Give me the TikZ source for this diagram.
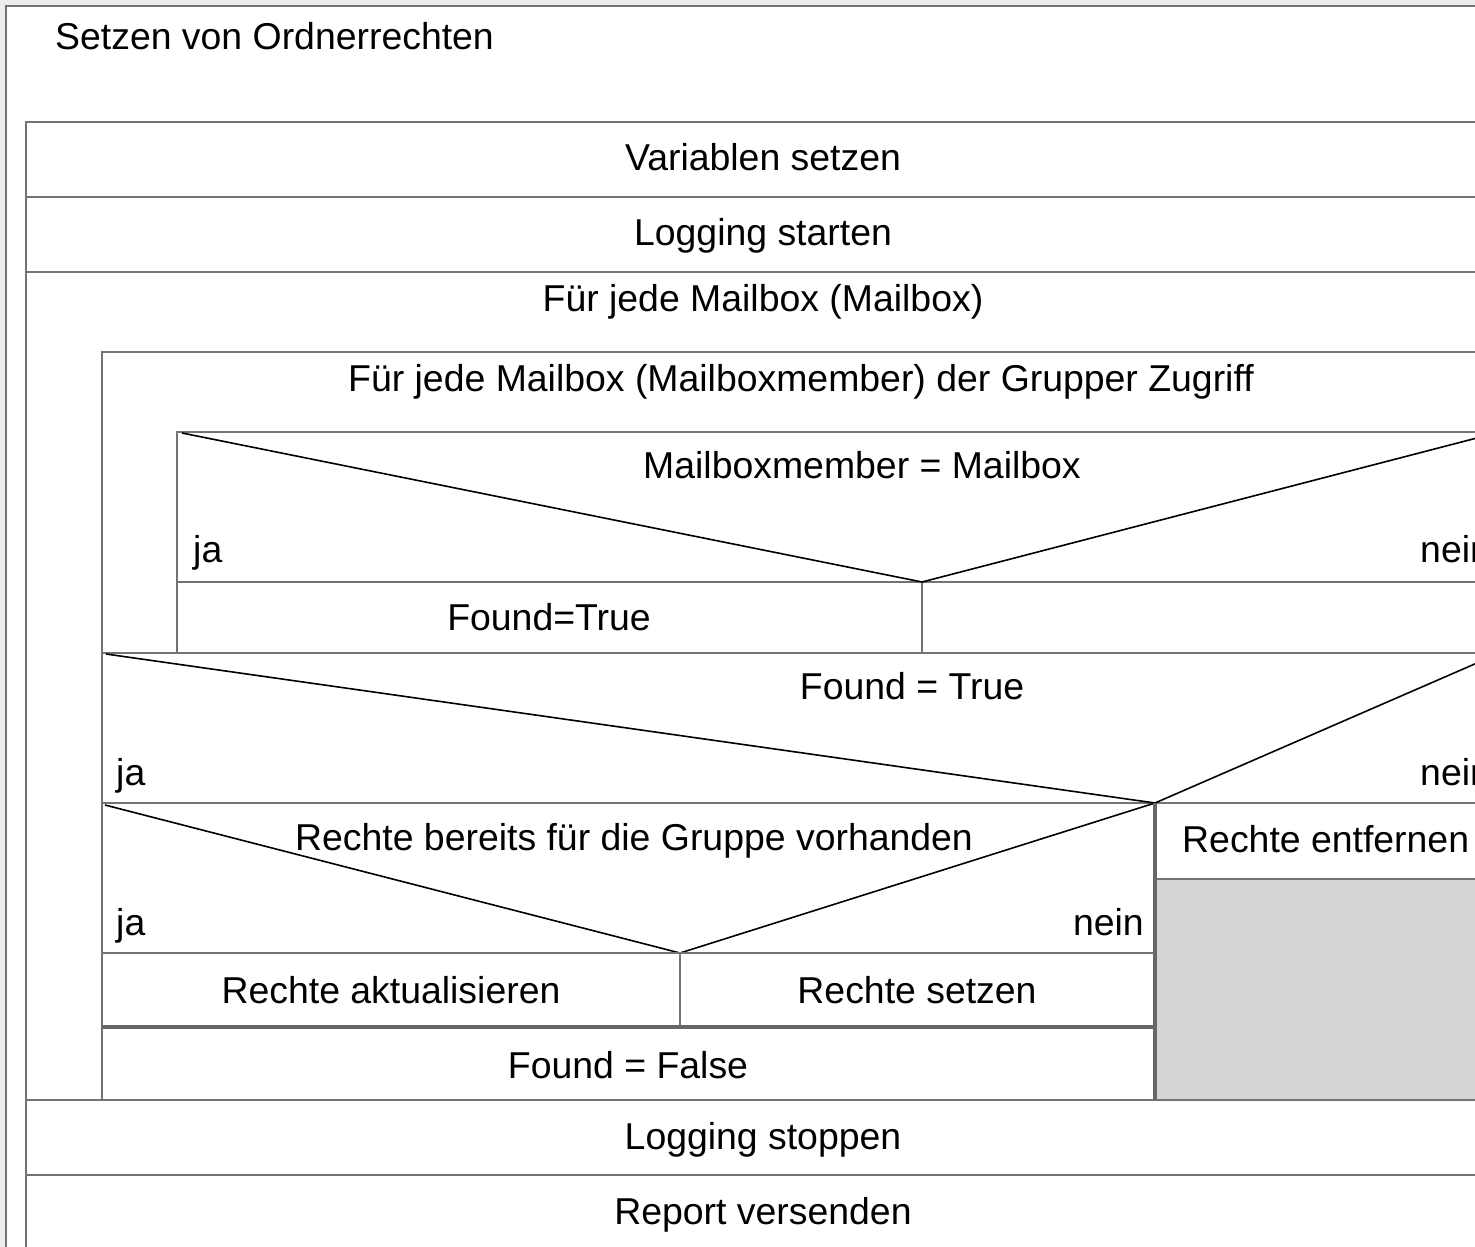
\documentclass[tikz,border=0pt]{standalone}
\usepackage{fontspec}
\setmainfont{Liberation Sans}
\begin{document}
\begin{tikzpicture}[x=1pt,y=-1pt,
  box/.style={draw=black!55, line width=2.2pt},
  heavy/.style={draw=black!60, line width=4pt},
  diag/.style={draw=black, line width=1.6pt},
  lbl/.style={inner sep=0pt, anchor=base, font=\fontsize{37.4}{44}\selectfont, text=black},
  lbll/.style={lbl, anchor=base west},
  lblr/.style={lbl, anchor=base east}]
\useasboundingbox (0,0) rectangle (1475,1247);
\clip (0,0) rectangle (1475,1247);
\fill[black!7] (0,0) rectangle (1475,1247);
% outer frame
\filldraw[fill=white, box] (6,6) rectangle (1540,1300);
% grey empty branch
\fill[black!17] (1155,879) rectangle (1520,1100);
% main block
\draw[box] (26,1300) -- (26,122) -- (1520,122);
\draw[box] (26,197) -- (1520,197);
\draw[box] (26,272) -- (1520,272);
\draw[box] (26,1100) -- (1520,1100);
\draw[box] (26,1175) -- (1520,1175);
% outer loop body
\draw[box] (102,1100) -- (102,352) -- (1520,352);
% inner loop body
\draw[box] (177,653) -- (177,432) -- (1520,432);
\draw[box] (177,582) -- (1520,582);
\draw[box] (922,582) -- (922,653);
\draw[box] (102,653) -- (1520,653);
\draw[diag] (182,433) -- (922,582) -- (1500,432);
% Found = True
\draw[box] (102,803) -- (1520,803);
\draw[diag] (106,654) -- (1155,803) -- (1500,653);
% Rechte bereits ...
\draw[diag] (105,805) -- (680,953) -- (1155,803);
\draw[box] (102,953) -- (1155,953);
\draw[box] (680,953) -- (680,1027);
\draw[heavy] (102,1027) -- (1155,1027);
\draw[box] (1155,879) -- (1520,879);
\draw[heavy] (1155,803) -- (1155,1100);
% texts
\node[lbll] (title) at (55,50) {Setzen von Ordnerrechten};
\node[lbl] (var) at (763,170) {Variablen setzen};
\node[lbl] (logstart) at (763,245) {Logging starten};
\node[lbl] (loop1) at (763,311) {Für jede Mailbox (Mailbox)};
\node[lbl] (loop2) at (801,391) {Für jede Mailbox (Mailboxmember) der Grupper Zugriff};
\node[lbl] (cond1) at (862,478) {Mailboxmember = Mailbox};
\node[lbll] (ja1) at (193,562) {ja};
\node[lbll] (nein1) at (1420,562) {nein};
\node[lbl] (found1) at (549,630) {Found=True};
\node[lbl] (cond2) at (912,699) {Found = True};
\node[lbll] (ja2) at (116,785) {ja};
\node[lbll] (nein2) at (1420,785) {nein};
\node[lbl] (cond3) at (634,850) {Rechte bereits für die Gruppe vorhanden};
\node[lbll] (ja3) at (116,935) {ja};
\node[lblr] (nein3) at (1144,935) {nein};
\node[lbll] (entf) at (1182,852) {Rechte entfernen};
\node[lbl] (akt) at (391,1003) {Rechte aktualisieren};
\node[lbl] (setz) at (917,1003) {Rechte setzen};
\node[lbl] (false) at (628,1078) {Found = False};
\node[lbl] (logstop) at (763,1149) {Logging stoppen};
\node[lbl] (report) at (763,1224) {Report versenden};
\end{tikzpicture}
\end{document}
